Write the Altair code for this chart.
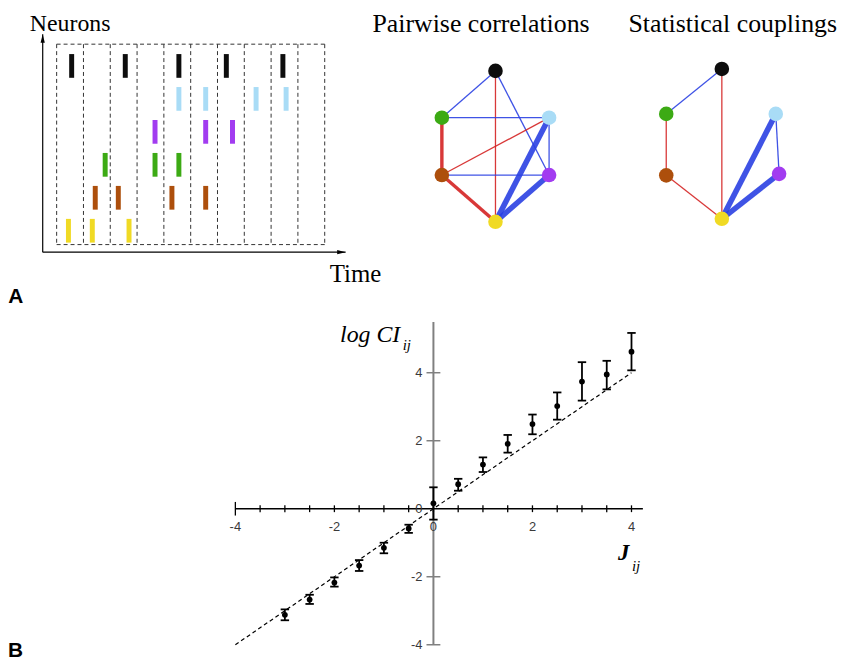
import altair as alt
import pandas as pd

# ---------------- Panel A : raster ----------------
neurons = ["black", "lightblue", "purple", "green", "brown", "yellow"]
neuron_colors = ["#0d0d0d", "#a9dcf6", "#a23cf0", "#3caa14", "#ad4f0c", "#f0da24"]

spikes_black = [0.56, 2.56, 4.56, 6.33, 8.44]
spikes_lightblue = [4.56, 5.56, 7.44, 8.56]
spikes_purple = [3.67, 5.56, 6.56]
spikes_green = [1.81, 3.67, 4.56]
spikes_brown = [1.44, 2.30, 4.30, 5.56]
spikes_yellow = [0.44, 1.33, 2.70]
time_bins = list(range(11))

# ---------------- Panel A : networks ----------------
pair_node_x = [0, 1, 1, -1, -1, 0]
pair_node_y = [0, 0.31, 0.69, 0.31, 0.69, 1.0]
coup_node_x = [0, 0.97, 1.03, -1, -1, 0]
coup_node_y = [0, 0.30, 0.70, 0.30, 0.71, 1.0]

pair_edge_a = ["black", "black", "black", "green", "green", "brown", "lightblue", "brown", "brown", "yellow", "yellow"]
pair_edge_b = ["green", "yellow", "purple", "lightblue", "brown", "lightblue", "purple", "purple", "yellow", "lightblue", "purple"]
pair_edge_sign = ["-", "+", "-", "-", "+", "+", "-", "-", "+", "-", "-"]
pair_edge_strength = [1, 1, 1, 1, 2, 1, 1, 1, 2, 3, 3]

coup_edge_a = ["black", "black", "green", "brown", "yellow", "yellow", "lightblue"]
coup_edge_b = ["green", "yellow", "brown", "yellow", "lightblue", "purple", "purple"]
coup_edge_sign = ["-", "+", "+", "+", "-", "-", "-"]
coup_edge_strength = [1, 1, 1, 1, 3, 3, 1]

# ---------------- Panel B : scatter ----------------
J = [-3, -2.5, -2, -1.5, -1, -0.5, 0, 0.5, 1, 1.5, 2, 2.5, 3, 3.5, 4]
logCI = [-3.12, -2.67, -2.17, -1.67, -1.15, -0.58, 0.16, 0.72, 1.30, 1.91, 2.49, 3.02, 3.74, 3.95, 4.62]
err_hi = [-2.96, -2.53, -2.02, -1.51, -1.00, -0.47, 0.63, 0.88, 1.51, 2.17, 2.77, 3.42, 4.31, 4.35, 5.17]
err_lo = [-3.28, -2.80, -2.29, -1.83, -1.31, -0.71, -0.32, 0.53, 1.08, 1.65, 2.19, 2.62, 3.18, 3.51, 4.07]
identity_ends = [-4, 4]
x_minor_ticks = [v / 2 for v in range(-8, 9)]
x_tick_labels = [-4, -2, 0, 2, 4]
y_tick_labels = [-4, -2, 0, 2, 4]
y_ticks = [-4, -2, 2, 4]

# ---------------- layout (scale ranges in pixels) ----------------
def sc(domain, rng):
    return alt.Scale(domain=domain, range=rng, nice=False, zero=False)

RX = sc([0, 10], [49, 319])
RY = sc([0, 5], [56, 222])
PX = sc([-1, 1], [437, 545])
PY = sc([0, 1], [61, 213])
CX = sc([-1, 1], [663, 775])
CY = sc([0, 1], [59, 210])
SX = sc([-4, 4], [229, 628])
SY = sc([-4, 4], [639, 365])

SERIF = "Liberation Serif"
SANS = "Liberation Sans"

layers = []


def X(f, s):
    return alt.X(f, scale=s, axis=None)


def Y(f, s):
    return alt.Y(f, scale=s, axis=None)


def text_layer(x, y, s, xs, ys, **kw):
    df = pd.DataFrame({"x": [x], "y": [y], "t": [s]})
    return alt.Chart(df).mark_text(**kw).encode(x=X("x:Q", xs), y=Y("y:Q", ys), text="t:N")


# ---- raster boxes
box_top, box_bottom = -0.66, 5.42
vbox = pd.DataFrame({"t": time_bins})
layers.append(
    alt.Chart(vbox).transform_calculate(y0=str(box_top), y1=str(box_bottom))
    .mark_rule(strokeDash=[4, 3], stroke="#333333", strokeWidth=1)
    .encode(x=X("t:Q", RX), y=Y("y0:Q", RY), y2="y1:Q")
)
hbox = pd.DataFrame({"r": [box_top, box_bottom]})
layers.append(
    alt.Chart(hbox).transform_calculate(x0=str(time_bins[0]), x1=str(time_bins[-1]))
    .mark_rule(strokeDash=[4, 3], stroke="#333333", strokeWidth=1)
    .encode(x=X("x0:Q", RX), x2="x1:Q", y=Y("r:Q", RY))
)

# ---- raster spikes
rows = []
for i, (n, ts) in enumerate(zip(neurons, [spikes_black, spikes_lightblue, spikes_purple,
                                        spikes_green, spikes_brown, spikes_yellow])):
    for t in ts:
        rows.append({"neuron": n, "row": i, "time": t})
spike_df = pd.DataFrame(rows)
layers.append(
    alt.Chart(spike_df).transform_calculate(y0="datum.row - 0.36", y1="datum.row + 0.36")
    .mark_rule(strokeWidth=5)
    .encode(x=X("time:Q", RX), y=Y("y0:Q", RY), y2="y1:Q",
            color=alt.Color("neuron:N", scale=alt.Scale(domain=neurons, range=neuron_colors), legend=None))
)

# ---- raster axes with arrows
ax_x, ax_y, ax_top, ax_right = -0.52, 5.65, -0.96, 10.78
axes_df = pd.DataFrame({"x0": [ax_x, ax_x], "x1": [ax_x, ax_right], "y0": [ax_y, ax_y], "y1": [ax_top, ax_y]})
layers.append(
    alt.Chart(axes_df).mark_rule(color="black", strokeWidth=1.2)
    .encode(x=X("x0:Q", RX), x2="x1:Q", y=Y("y0:Q", RY), y2="y1:Q")
)
layers.append(
    alt.Chart(pd.DataFrame({"x": [ax_x], "y": [ax_top]}))
    .mark_point(shape="M0,0L0.55,2.2L-0.55,2.2Z", size=60, filled=True, color="black", opacity=1)
    .encode(x=X("x:Q", RX), y=Y("y:Q", RY))
)
layers.append(
    alt.Chart(pd.DataFrame({"x": [ax_right], "y": [ax_y]}))
    .mark_point(shape="M0,0L-2.2,0.55L-2.2,-0.55Z", size=60, filled=True, color="black", opacity=1)
    .encode(x=X("x:Q", RX), y=Y("y:Q", RY))
)
layers.append(text_layer(-1.0, -1.06, "Neurons", RX, RY, align="left", baseline="alphabetic",
                         font=SERIF, fontSize=24, color="black"))
layers.append(text_layer(10.19, 6.57, "Time", RX, RY, align="left", baseline="alphabetic",
                         font=SERIF, fontSize=25, color="black"))
layers.append(text_layer(-1.81, 7.2, "A", RX, RY, align="left", baseline="alphabetic",
                         font=SANS, fontSize=21, fontWeight="bold", color="black"))


# ---- networks
def network(nx, ny, ea, eb, es, ew, xs, ys, title, tx, ty):
    pos = {n: (x, y) for n, x, y in zip(neurons, nx, ny)}
    edf = pd.DataFrame({
        "x0": [pos[a][0] for a in ea], "y0": [pos[a][1] for a in ea],
        "x1": [pos[b][0] for b in eb], "y1": [pos[b][1] for b in eb],
        "sign": es, "strength": ew,
    })
    ndf = pd.DataFrame({"neuron": neurons, "x": nx, "y": ny})
    out = [
        alt.Chart(edf).mark_rule(opacity=0.9).encode(
            x=X("x0:Q", xs), y=Y("y0:Q", ys), x2="x1:Q", y2="y1:Q",
            color=alt.Color("sign:N", scale=alt.Scale(domain=["+", "-"], range=["#d42222", "#2a40e2"]), legend=None),
            strokeWidth=alt.StrokeWidth("strength:Q", scale=alt.Scale(domain=[1, 3], range=[1.3, 5.6]), legend=None),
        ),
        alt.Chart(ndf).mark_circle(size=215, opacity=1).encode(
            x=X("x:Q", xs), y=Y("y:Q", ys),
            color=alt.Color("neuron:N", scale=alt.Scale(domain=neurons, range=neuron_colors), legend=None),
        ),
        text_layer(tx, ty, title, xs, ys, align="center", baseline="alphabetic",
                   font=SERIF, fontSize=26, color="black"),
    ]
    return out


layers += network(pair_node_x, pair_node_y, pair_edge_a, pair_edge_b, pair_edge_sign, pair_edge_strength,
                  PX, PY, "Pairwise correlations", -0.269, -0.257)
layers += network(coup_node_x, coup_node_y, coup_edge_a, coup_edge_b, coup_edge_sign, coup_edge_strength,
                  CX, CY, "Statistical couplings", 0.196, -0.245)

# ---- scatter axes
layers.append(
    alt.Chart(pd.DataFrame({"x0": [0], "y0": [-4], "y1": [5.49]}))
    .mark_rule(color="#808080", strokeWidth=2)
    .encode(x=X("x0:Q", SX), y=Y("y0:Q", SY), y2="y1:Q")
)
layers.append(
    alt.Chart(pd.DataFrame({"v": y_ticks}))
    .transform_calculate(x0="-0.14", x1="0.14")
    .mark_rule(color="#808080", strokeWidth=1.5)
    .encode(x=X("x0:Q", SX), x2="x1:Q", y=Y("v:Q", SY))
)
layers.append(
    alt.Chart(pd.DataFrame({"x0": [-4], "x1": [4.23], "y0": [0]}))
    .mark_rule(color="black", strokeWidth=1.5)
    .encode(x=X("x0:Q", SX), x2="x1:Q", y=Y("y0:Q", SY))
)
layers.append(
    alt.Chart(pd.DataFrame({"v": x_minor_ticks}))
    .transform_calculate(y0="datum.v == -4 ? -0.2 : -0.1", y1="datum.v == -4 ? 0.2 : 0.1")
    .mark_rule(color="black", strokeWidth=1.3)
    .encode(x=X("v:Q", SX), y=Y("y0:Q", SY), y2="y1:Q")
)
layers.append(
    alt.Chart(pd.DataFrame({"v": x_tick_labels}))
    .transform_calculate(y0="-0.53", lab="toString(datum.v)")
    .mark_text(font=SANS, fontSize=13, color="#3a3a3a", align="center", baseline="middle")
    .encode(x=X("v:Q", SX), y=Y("y0:Q", SY), text="lab:N")
)
layers.append(
    alt.Chart(pd.DataFrame({"v": y_tick_labels}))
    .transform_calculate(x0="-0.22", lab="toString(datum.v)")
    .mark_text(font=SANS, fontSize=13, color="#3a3a3a", align="right", baseline="middle")
    .encode(x=X("x0:Q", SX), y=Y("v:Q", SY), text="lab:N")
)

# ---- identity dashed line
layers.append(
    alt.Chart(pd.DataFrame({"a": [identity_ends[0]], "b": [identity_ends[1]]}))
    .mark_rule(color="black", strokeDash=[4, 3], strokeWidth=1.2)
    .encode(x=X("a:Q", SX), y=Y("a:Q", SY), x2="b:Q", y2="b:Q")
)

# ---- error bars and points
sdf = pd.DataFrame({"J": J, "ci": logCI, "lo": err_lo, "hi": err_hi})
layers.append(
    alt.Chart(sdf).mark_rule(color="black", strokeWidth=1.8)
    .encode(x=X("J:Q", SX), y=Y("lo:Q", SY), y2="hi:Q")
)
caps = sdf.melt(id_vars=["J"], value_vars=["lo", "hi"], value_name="e")
layers.append(
    alt.Chart(caps).transform_calculate(x0="datum.J - 0.085", x1="datum.J + 0.085")
    .mark_rule(color="black", strokeWidth=1.8)
    .encode(x=X("x0:Q", SX), x2="x1:Q", y=Y("e:Q", SY))
)
layers.append(
    alt.Chart(sdf).mark_circle(color="black", size=34, opacity=1)
    .encode(x=X("J:Q", SX), y=Y("ci:Q", SY))
)

# ---- axis titles
layers.append(text_layer(-1.885, 4.905, "log CI", SX, SY, align="left", baseline="alphabetic",
                         font=SERIF, fontSize=24, fontStyle="italic", color="black"))
layers.append(text_layer(-0.62, 4.67, "ij", SX, SY, align="left", baseline="alphabetic",
                         font=SERIF, fontSize=15, fontStyle="italic", color="black"))
layers.append(text_layer(3.73, -1.52, "J", SX, SY, align="left", baseline="alphabetic",
                         font=SERIF, fontSize=23, fontStyle="italic", fontWeight="bold", color="black"))
layers.append(text_layer(4.01, -1.84, "ij", SX, SY, align="left", baseline="alphabetic",
                         font=SERIF, fontSize=15, fontStyle="italic", color="black"))
layers.append(text_layer(-8.59, -4.35, "B", SX, SY, align="left", baseline="alphabetic",
                         font=SANS, fontSize=21, fontWeight="bold", color="black"))

chart = (
    alt.layer(*layers)
    .resolve_scale(x="independent", y="independent", color="independent", strokeWidth="independent")
    .properties(width=836, height=652, padding=0, autosize=alt.AutoSizeParams(type="none"), background="white")
    .configure_view(stroke=None)
)

chart.save("out.html", embed_options={"renderer": "svg", "actions": False})
